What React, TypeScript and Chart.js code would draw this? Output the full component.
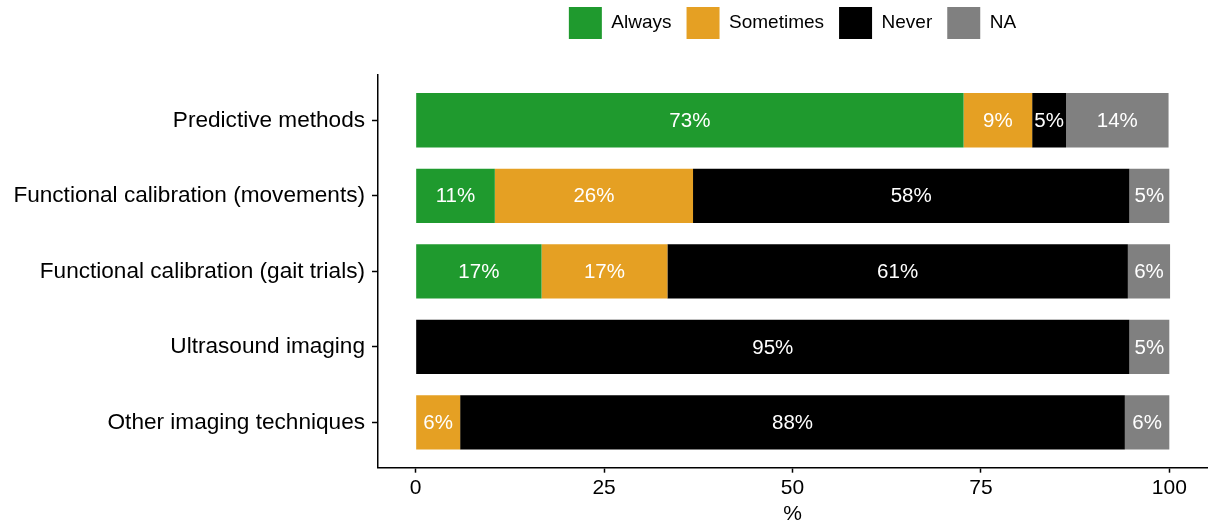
import React, { useEffect, useRef } from "react";
import { Chart, registerables } from "chart.js";

Chart.register(...registerables);

const categories = [
  "Predictive methods",
  "Functional calibration (movements)",
  "Functional calibration (gait trials)",
  "Ultrasound imaging",
  "Other imaging techniques",
];
const seriesNames = ["Always", "Sometimes", "Never", "NA"];
const always = [72.7, 10.5, 16.7, 0, 0];
const sometimes = [9.1, 26.3, 16.7, 0, 5.9];
const never = [4.5, 57.9, 61.1, 94.7, 88.2];
const na = [13.6, 5.3, 5.6, 5.3, 5.9];
const seriesColors = ["#1F9A2E", "#E5A023", "#000000", "#808080"];
const xTicks = [0, 25, 50, 75, 100];

const FONT = '"Liberation Sans", Arial, Helvetica, sans-serif';

const segmentLabels = {
  id: "segmentLabels",
  afterDatasetsDraw(chart: any) {
    const ctx = chart.ctx;
    ctx.save();
    ctx.font = `20.5px ${FONT}`;
    ctx.fillStyle = "#ffffff";
    ctx.textAlign = "center";
    ctx.textBaseline = "middle";
    chart.data.datasets.forEach((ds: any, di: number) => {
      const meta = chart.getDatasetMeta(di);
      meta.data.forEach((bar: any, i: number) => {
        const v = ds.data[i].x;
        if (!v) return;
        const p = bar.getProps(["x", "y", "base"], true);
        ctx.fillText(Math.round(v) + "%", (p.x + p.base) / 2, p.y + 1);
      });
    });
    ctx.restore();
  },
};

export default function App() {
  const canvasRef = useRef<HTMLCanvasElement | null>(null);

  useEffect(() => {
    if (!canvasRef.current) return;
    const allSeries = [always, sometimes, never, na];
    const chart = new Chart(canvasRef.current, {
      type: "bar",
      data: {
        datasets: seriesNames.map((name, si) => ({
          label: name,
          data: allSeries[si].map((v, i) => ({ x: v, y: i })),
          backgroundColor: seriesColors[si],
          borderWidth: 0,
          barPercentage: 0.72,
          categoryPercentage: 1,
        })),
      },
      options: {
        indexAxis: "y",
        animation: false,
        responsive: true,
        maintainAspectRatio: false,
        devicePixelRatio: 1,
        events: [],
        layout: { padding: { top: -8, left: 0, right: 1, bottom: 0 } },
        font: { family: FONT },
        scales: {
          x: {
            type: "linear",
            stacked: true,
            offset: false,
            min: -5,
            max: 105,
            afterBuildTicks: (scale: any) => {
              scale.ticks = xTicks.map((v) => ({ value: v }));
            },
            afterFit: (scale: any) => {
              scale.height = 59.3;
            },
            grid: {
              offset: false,
              drawOnChartArea: false,
              drawTicks: true,
              tickLength: 5,
              tickWidth: 1.5,
              tickColor: "#000",
            },
            border: { display: true, color: "#000", width: 1.5 },
            ticks: {
              color: "#000",
              padding: 3,
              font: { size: 21, family: FONT },
              callback: (v: any) => String(v),
            },
            title: {
              display: true,
              text: "%",
              color: "#000",
              font: { size: 21, family: FONT },
              padding: { top: 0, bottom: 0 },
            },
          },
          y: {
            type: "linear",
            stacked: true,
            reverse: true,
            offset: false,
            min: -0.6,
            max: categories.length - 0.4,
            afterBuildTicks: (scale: any) => {
              scale.ticks = categories.map((_, i) => ({ value: i }));
            },
            afterFit: (scale: any) => {
              scale.width = 378;
            },
            grid: {
              offset: false,
              drawOnChartArea: false,
              drawTicks: true,
              tickLength: 6,
              tickWidth: 1.5,
              tickColor: "#000",
            },
            border: { display: true, color: "#000", width: 1.5 },
            ticks: {
              color: "#000",
              padding: 7,
              font: { size: 22.6, family: FONT },
              callback: (v: any) => categories[Math.round(Number(v))] ?? "",
            },
          },
        },
        plugins: {
          legend: {
            display: true,
            position: "top",
            fullSize: false,
            align: "center",
            labels: {
              boxWidth: 33,
              boxHeight: 32,
              padding: 15,
              color: "#000",
              font: { size: 19, family: FONT },
            },
          },
          title: {
            display: true,
            text: "",
            weight: 500,
            padding: 0,
            font: { size: 10, lineHeight: 2.6 },
          },
          tooltip: { enabled: false },
        },
      } as any,
      plugins: [segmentLabels],
    });
    return () => chart.destroy();
  }, []);

  return (
    <div style={{ position: "fixed", left: 0, top: 0, width: 1208, height: 527, background: "#fff" }}>
      <canvas ref={canvasRef} />
    </div>
  );
}
